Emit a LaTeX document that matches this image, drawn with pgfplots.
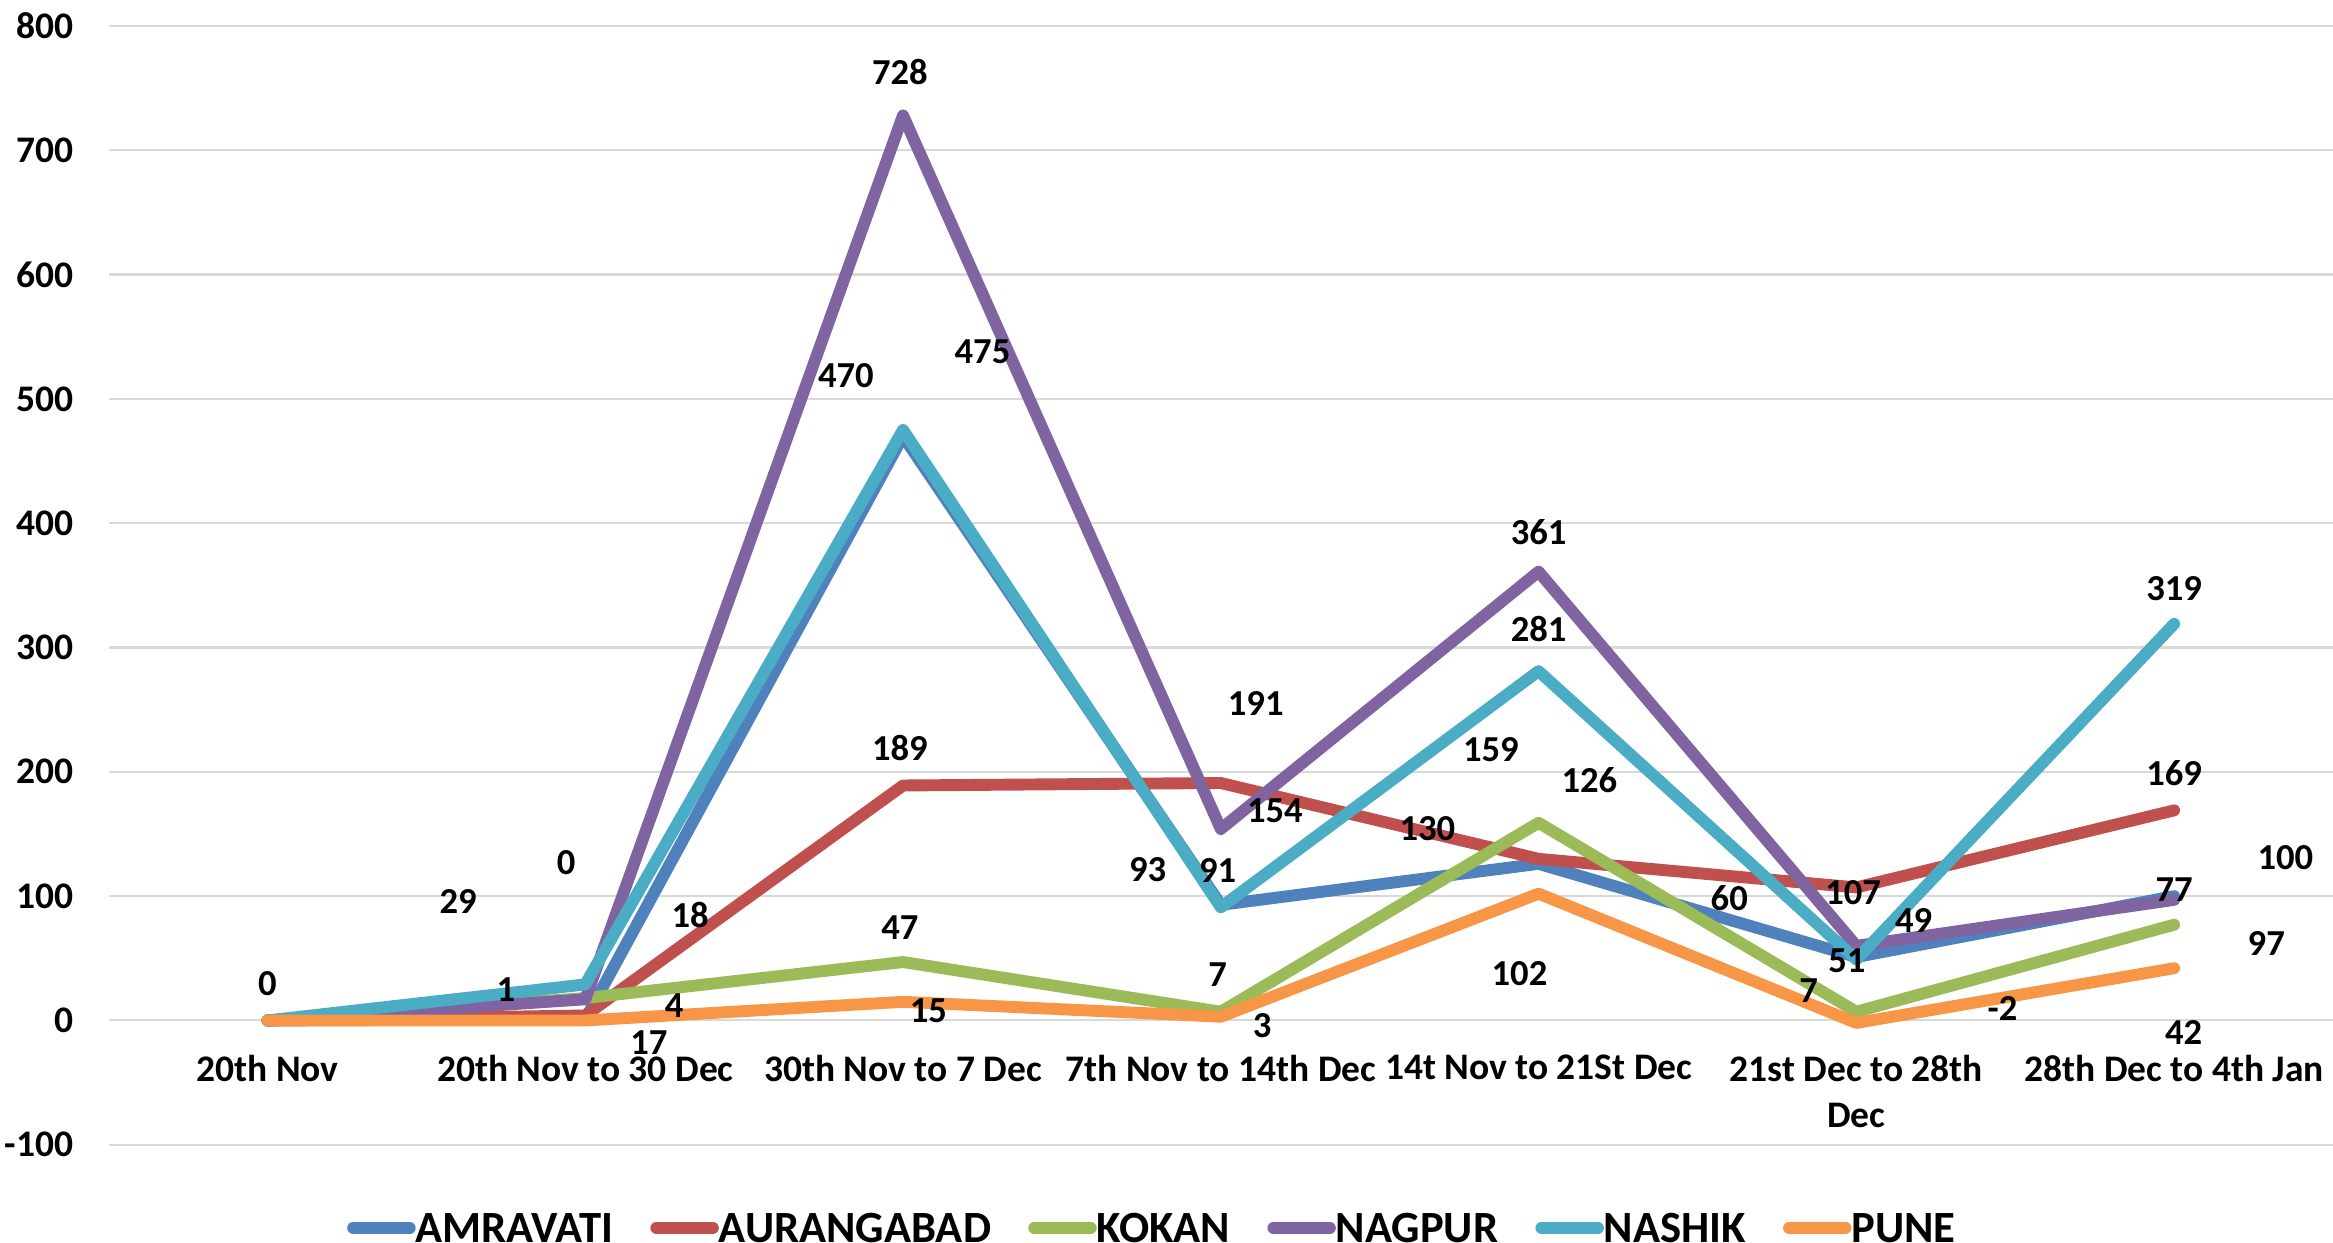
\documentclass[border=0pt]{standalone}
\usepackage{pgfplots}
\pgfplotsset{compat=1.18}
\usepackage{pgfplotstable}
\usepackage{fontspec}
\setmainfont{Carlito}
\definecolor{camr}{HTML}{4F81BD}
\definecolor{caur}{HTML}{C0504D}
\definecolor{ckok}{HTML}{9BBB59}
\definecolor{cnag}{HTML}{8064A2}
\definecolor{cnas}{HTML}{4BACC6}
\definecolor{cpun}{HTML}{F79646}
\definecolor{cgrid}{HTML}{D9D9D9}

\pgfplotstableread{
x AMR AUR KOK NAG NAS PUN
0 0 0 0 0 0 0
1 1 4 18 17 29 0
2 470 189 47 728 475 15
3 93 191 7 154 91 3
4 126 130 159 361 281 102
5 51 107 7 60 49 -2
6 100 169 77 97 319 42
}\data

\pgfplotstableread{
x y lab
0 30 0
0.60 96 29
0.94 127 0
0.75 25 1
1.33 85 18
1.28 12 4
1.20 -18 17
1.82 519 470
1.99 763 728
2.25 538 475
1.99 219 189
1.99 75 47
2.08 8 15
2.77 121 93
3.11 255 191
2.99 121 91
3.17 169 154
2.99 37 7
3.13 -4 3
3.65 154 130
3.85 218 159
4.16 193 126
4.00 393 361
4.00 315 281
3.94 38 102
4.60 98 60
4.99 103 107
4.97 48 51
5.18 80 49
4.85 24 7
5.46 10 -2
6.00 347 319
6.00 199 169
6.35 131 100
6.00 105 77
6.29 62 97
6.03 -10 42
}\labels

\begin{document}
\begin{tikzpicture}
\begin{axis}[
  at={(36.5bp,33bp)}, anchor=south west,
  scale only axis, width=747.5bp, height=376bp,
  xmin=-0.5, xmax=6.5, ymin=-100, ymax=800,
  enlargelimits=false,
  axis x line=middle, axis y line=left,
  axis line style={draw=none},
  hide obscured x ticks=false, hide obscured y ticks=false,
  xtick={0,1,2,3,4,5,6},
  xticklabels={20th Nov,20th Nov to 30 Dec,30th Nov to 7 Dec,7th Nov to 14th Dec,14t Nov to 21St Dec,{21st Dec to 28th\\Dec},28th Dec to 4th Jan},
  ytick={-100,0,100,200,300,400,500,600,700,800},
  major tick style={draw=none},
  ymajorgrids, grid style={draw=cgrid, line width=0.7bp},
  tick label style={font=\fontsize{12.6bp}{15.5bp}\selectfont\bfseries},
  /pgf/number format/assume math mode=true,
  xticklabel style={anchor=north, inner sep=0pt, yshift=-9.4bp, align=center},
  yticklabel style={anchor=east, inner sep=0pt, xshift=-9.5bp},
  clip=false,
  legend columns=6,
  legend style={at={(0.107,-0.0742)}, anchor=west, draw=none, inner sep=0pt,
    font=\fontsize{15bp}{17bp}\selectfont\bfseries,
    nodes={inner sep=0pt, text depth=0pt},
    /tikz/every even column/.append style={column sep=12.5bp}},
  legend image code/.code={\draw[#1, line width=4bp, line cap=round] (2bp,0bp) -- (21bp,0bp);},
  every axis plot/.append style={line width=4bp, line join=round, line cap=round, mark=none},
]
\addplot[camr] table[x=x, y=AMR] {\data};
\addlegendentry{AMRAVATI}
\addplot[caur] table[x=x, y=AUR] {\data};
\addlegendentry{AURANGABAD}
\addplot[ckok] table[x=x, y=KOK] {\data};
\addlegendentry{KOKAN}
\addplot[cnag] table[x=x, y=NAG] {\data};
\addlegendentry{NAGPUR}
\addplot[cnas] table[x=x, y=NAS] {\data};
\addlegendentry{NASHIK}
\addplot[cpun] table[x=x, y=PUN] {\data};
\addlegendentry{PUNE}
\addplot[forget plot, draw=none, mark=none, nodes near coords, point meta=explicit symbolic,
  nodes near coords style={anchor=center, inner sep=0pt, text=black, font=\fontsize{12.3bp}{15bp}\selectfont\bfseries}]
  table[x=x, y=y, meta=lab] {\labels};
\end{axis}
\pgfresetboundingbox
\path[use as bounding box] (0,0) rectangle (784bp,417.7bp);
\end{tikzpicture}
\end{document}
